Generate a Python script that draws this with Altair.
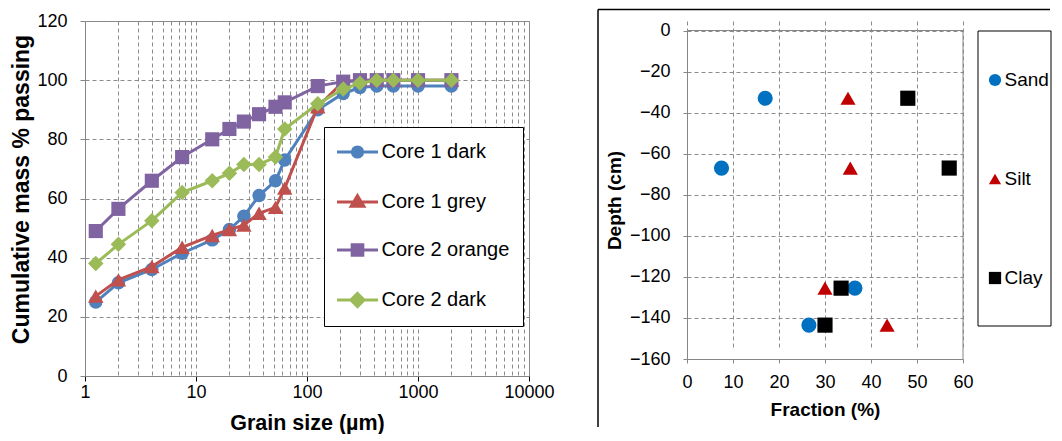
import altair as alt
import pandas as pd

FONT = "Liberation Sans"

# ---------------- left chart data ----------------
grain_size = [1.25, 2, 4, 7.5, 14, 20, 27, 37, 52, 63, 125, 212, 300, 425, 600, 1000, 2000]
core1_dark = [25, 31.5, 36, 41.5, 46, 49.5, 54, 61, 66, 73, 90, 95.5, 97.5, 98, 98, 98, 98]
core1_grey = [27, 32.5, 37, 43.5, 47.5, 49.5, 51, 55, 57, 63.5, 91, 99.5, 100, 100, 100, 100, 100]
core2_orange = [49, 56.5, 66, 74, 80, 83.5, 86, 88.5, 91, 92.5, 98, 99.5, 100, 100, 100, 100, 100]
core2_dark = [38, 44.5, 52.5, 62, 66, 68.5, 71.5, 71.5, 74, 83.5, 92, 97, 99, 100, 100, 100, 100]
series_names = ["Core 1 dark", "Core 1 grey", "Core 2 orange", "Core 2 dark"]
series_colors = ["#4F81BD", "#C0504D", "#8064A2", "#9BBB59"]
series_shapes = ["circle", "triangle-up", "square", "diamond"]
series_sizes = [180, 240, 200, 240]
# legend symbols: a short line with the marker in its middle (unit coordinates)
legend_paths = [
    "M-2,0L2,0M-0.5,0A0.5,0.5 0 1,0 0.5,0A0.5,0.5 0 1,0 -0.5,0Z",
    "M-2,0L2,0M0,-0.62L0.62,0.42L-0.62,0.42Z",
    "M-2,0L2,0M-0.52,-0.52L0.52,-0.52L0.52,0.52L-0.52,0.52Z",
    "M-2,0L2,0M0,-0.64L0.64,0L0,0.64L-0.64,0Z",
]

# ---------------- right chart data ----------------
depth = [-33, -67, -125.5, -143.5]
sand = [17, 7.5, 36.5, 26.5]
silt = [35, 35.5, 30, 43.5]
clay = [48, 57, 33.5, 30]
fraction_names = ["Sand", "Silt", "Clay"]
fraction_colors = ["#0070C0", "#C00000", "#000000"]
fraction_shapes = ["circle", "triangle-up", "square"]

left_rows = []
for name, vals in zip(series_names, [core1_dark, core1_grey, core2_orange, core2_dark]):
    for g, v in zip(grain_size, vals):
        left_rows.append({"size": g, "pct": v, "series": name})
df_left = pd.DataFrame(left_rows)

right_rows = []
for name, vals in zip(fraction_names, [sand, silt, clay]):
    for d, v in zip(depth, vals):
        right_rows.append({"fraction": v, "depth": d, "type": name})
df_right = pd.DataFrame(right_rows)

GRID = "#8c8c8c"
AXC = "#868686"

log_values = [m * 10 ** e for e in range(0, 4) for m in range(1, 10)] + [10000]

x_left = alt.X(
    "size:Q",
    scale=alt.Scale(type="log", domain=[1, 10000], nice=False),
    axis=alt.Axis(
        values=log_values, format="d",
        labelExpr="indexof(['1','10','100','1000','10000'], datum.label) >= 0 ? datum.label : ''",
        title="Grain size (µm)", titleFontSize=21.5, titleFontWeight="bold", titleColor="black",
        titlePadding=11, labelFontSize=18, labelColor="black", labelPadding=2,
        tickSize=5, tickColor="black",
        tickOpacity={"condition": {"test": "indexof([1,10,100,1000,10000], datum.value) >= 0", "value": 1}, "value": 0},
        grid=True, gridDash=[4, 3], gridColor=GRID, domainColor=AXC, labelFlush=False,
    ),
)
y_left = alt.Y(
    "pct:Q",
    scale=alt.Scale(domain=[0, 120], nice=False),
    axis=alt.Axis(
        values=[0, 20, 40, 60, 80, 100, 120],
        title="Cumulative mass % passing", titleFontSize=23, titleFontWeight="bold",
        titleColor="black", titlePadding=3, titleY=168, labelFontSize=18, labelColor="black",
        labelPadding=13, tickSize=5, tickColor=AXC,
        grid=True, gridDash=[4, 3], gridColor=GRID, domainColor=AXC,
    ),
)

stroke_scale = alt.Scale(domain=series_names, range=series_colors)
fill_scale = alt.Scale(domain=series_names, range=series_colors)
left_legend = alt.Legend(
    orient="none", legendX=239, legendY=106, title=None, labelFont=FONT, labelFontSize=20,
    labelColor="black", padding=13, rowPadding=25, labelOffset=12, symbolOffset=8.5,
    labelLimit=400, symbolSize=420, symbolStrokeWidth=3, symbolOpacity=1,
    strokeColor="black", fillColor="white",
)

base_left = alt.Chart(df_left)
left_layers = []
for name, shp, sz in zip(series_names, series_shapes, series_sizes):
    sel = base_left.transform_filter(alt.datum.series == name)
    left_layers.append(
        sel.mark_line(strokeWidth=3).encode(
            x=x_left, y=y_left,
            stroke=alt.Stroke("series:N", scale=stroke_scale, legend=left_legend),
        )
    )
    left_layers.append(
        sel.mark_point(filled=True, opacity=1, size=sz, strokeWidth=0, shape=shp).encode(
            x=x_left, y=y_left,
            fill=alt.Fill("series:N", scale=fill_scale, legend=left_legend),
        )
    )

legend_layer = base_left.transform_filter("false").mark_point(filled=True, opacity=1).encode(
    x=x_left, y=y_left,
    fill=alt.Fill("series:N", scale=fill_scale, legend=left_legend),
    stroke=alt.Stroke("series:N", scale=stroke_scale, legend=left_legend),
    shape=alt.Shape("series:N", scale=alt.Scale(domain=series_names, range=legend_paths), legend=left_legend),
)
left_layers.append(legend_layer)
left = alt.layer(*left_layers).properties(width=444, height=355)

# ---------------- right chart ----------------
x_right = alt.X(
    "fraction:Q",
    scale=alt.Scale(domain=[0, 60], nice=False),
    axis=alt.Axis(values=[0, 10, 20, 30, 40, 50, 60], title="Fraction (%)", titleFontSize=19,
                  titleFontWeight="bold", titleColor="black", titlePadding=9,
                  labelFontSize=18, labelColor="black", labelPadding=10, tickSize=4,
                  tickColor=AXC, grid=True, gridDash=[4, 3], gridColor=GRID, domainColor=AXC,
                  labelFlush=False),
)
y_right = alt.Y(
    "depth:Q",
    scale=alt.Scale(domain=[-160, 0], nice=False, range=[338, 9.5]),
    axis=alt.Axis(values=[-160, -140, -120, -100, -80, -60, -40, -20, 0], title="Depth (cm)",
                  titleFontSize=19, titleFontWeight="bold", titleColor="black", titlePadding=5,
                  titleY=179, labelFontSize=18, labelColor="black", labelPadding=13, tickSize=4,
                  tickColor=AXC, grid=True, gridDash=[4, 3], gridColor=GRID, domainColor=AXC),
)
r_legend = alt.Legend(orient="none", legendX=298.5, legendY=49.5, title=None, symbolSize=150,
                      symbolStrokeWidth=0, symbolOpacity=1, labelFont=FONT, labelFontSize=19,
                      labelColor="black", rowPadding=79, padding=0, labelOffset=0)
right_points = alt.Chart(df_right).mark_point(filled=True, opacity=1, size=230, strokeWidth=0).encode(
    x=x_right, y=y_right,
    fill=alt.Fill("type:N", scale=alt.Scale(domain=fraction_names, range=fraction_colors), legend=r_legend),
    shape=alt.Shape("type:N", scale=alt.Scale(domain=fraction_names, range=fraction_shapes), legend=r_legend),
)

deco = pd.DataFrame({"k": [0]})
border_top = alt.Chart(deco).mark_rule(color=AXC, strokeWidth=1).encode(
    x=alt.datum(0), x2=alt.datum(60), y=alt.datum(0))
border_right = alt.Chart(deco).mark_rule(color=AXC, strokeWidth=1).encode(
    x=alt.datum(60), y=alt.datum(-160), y2=alt.datum(0))
frame_left = alt.Chart(deco).mark_rule(color="black", strokeWidth=1.5).encode(
    x=alt.value(-89), y=alt.value(-11.5), y2=alt.value(406))
frame_top = alt.Chart(deco).mark_rule(color="black", strokeWidth=1.5).encode(
    x=alt.value(-89), x2=alt.value(363), y=alt.value(-11.5))
legend_box = alt.Chart(deco).mark_rect(fill="white", stroke="black", strokeWidth=1).encode(
    x=alt.value(291), x2=alt.value(364), y=alt.value(10), y2=alt.value(305))

right = alt.layer(border_top, border_right, frame_left, frame_top, legend_box, right_points).properties(
    width=276, height=338, view=alt.ViewBackground(stroke="transparent"))

PAD = {"left": 2, "top": 0, "right": 0, "bottom": 0}
chart = (
    alt.hconcat(left, right, spacing=41)
    .resolve_scale(fill="independent", shape="independent", stroke="independent")
    .resolve_legend(fill="independent", shape="independent", stroke="independent")
    .properties(padding=PAD)
    .configure(font=FONT, padding=PAD)
    .configure_view(stroke=AXC, strokeWidth=1)
)

chart.save("out.html", embed_options={"renderer": "svg", "actions": False})
